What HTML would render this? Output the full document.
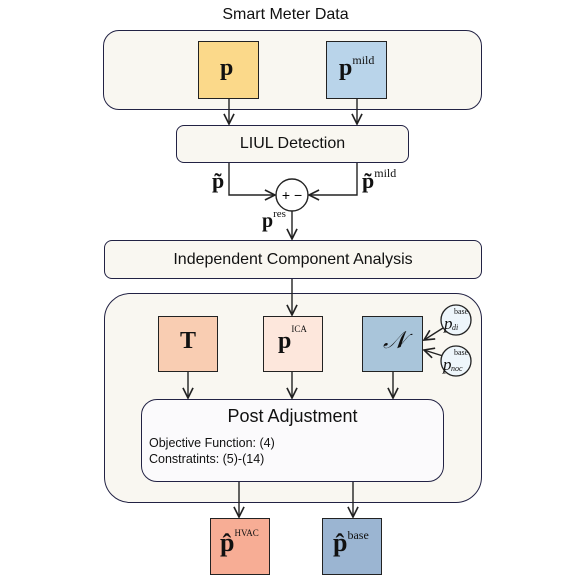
<html><head><style>
body{margin:0;width:571px;height:585px;background:#fff;position:relative;font-family:"Liberation Sans",sans-serif;overflow:hidden}
.a{position:absolute;box-sizing:border-box;border:1.5px solid #222244}
.t{position:absolute;font-family:"Liberation Serif",serif;font-weight:bold;color:#111}
.s{font-weight:normal;font-size:11px;vertical-align:top;position:relative;top:-2px}
</style></head><body>
<div style="position:absolute;left:0;width:571px;top:6px;text-align:center;font-size:16px;color:#111">Smart Meter Data</div>
<div class="a" style="left:103px;top:30px;width:379px;height:80px;border-radius:16px;background:#f9f7f1"></div>
<div class="a" style="left:104px;top:293px;width:378px;height:210px;border-radius:26px;background:#f9f7f1"></div>
<div class="a" style="left:198px;top:41px;width:61px;height:58px;background:#fbd98a;border:1.5px solid #222"></div>
<div class="a" style="left:326px;top:41px;width:61px;height:58px;background:#b9d4ea;border:1.5px solid #222"></div>
<div class="t" style="left:220px;top:55px;font-size:24px">p</div>
<div class="t" style="left:339px;top:55px;font-size:24px">p<span class="s" style="font-size:12px">mild</span></div>
<div class="a" style="left:176px;top:125px;width:233px;height:38px;border-radius:8px;background:#f9f7f1;text-align:center;line-height:36px;font-size:16px;color:#111">LIUL Detection</div>
<div class="a" style="left:104px;top:240px;width:378px;height:39px;border-radius:8px;background:#f9f7f1;text-align:center;line-height:37px;font-size:16px;color:#111">Independent Component Analysis</div>
<div class="t" style="left:212px;top:168px;font-size:22px">p̃</div>
<div class="t" style="left:362px;top:168px;font-size:22px">p̃<span class="s" style="font-size:12px">mild</span></div>
<div class="t" style="left:262px;top:210px;font-size:20px">p<span class="s" style="font-size:11px">res</span></div>
<div class="a" style="left:158px;top:316px;width:60px;height:56px;background:#f9cdb2;border:1.5px solid #222"></div>
<div class="a" style="left:263px;top:316px;width:60px;height:56px;background:#fde7dc;border:1.5px solid #222"></div>
<div class="a" style="left:362px;top:316px;width:61px;height:56px;background:#a9c5da;border:1.5px solid #222"></div>
<div class="t" style="left:180px;top:328px;font-size:24px">T</div>
<div class="t" style="left:278px;top:328px;font-size:24px">p<span class="s" style="font-size:9px;top:-4px">ICA</span></div>
<div class="t" style="left:383px;top:326px;font-size:24px;font-weight:normal;font-style:italic;font-family:'DejaVu Serif',serif">𝒩</div>
<div class="a" style="left:141px;top:399px;width:303px;height:83px;border-radius:16px;background:#fbfafc"></div>
<div style="position:absolute;left:141px;width:303px;top:406px;text-align:center;font-size:18px;color:#111">Post Adjustment</div>
<div style="position:absolute;left:149px;top:435px;font-size:12.5px;line-height:16px;color:#111">Objective Function: (4)<br>Constratints: (5)-(14)</div>
<div class="a" style="left:210px;top:518px;width:60px;height:57px;background:#f7ad95;border:1.5px solid #222"></div>
<div class="a" style="left:322px;top:518px;width:60px;height:57px;background:#9bb5d2;border:1.5px solid #222"></div>
<div class="t" style="left:220px;top:528px;font-size:26px">p̂<span class="s" style="font-size:9px;top:0">HVAC</span></div>
<div class="t" style="left:333px;top:528px;font-size:26px">p̂<span class="s" style="font-size:12px;top:0">base</span></div>
<svg width="571" height="585" style="position:absolute;left:0;top:0">
<defs><marker id="m" viewBox="0 0 10 10" refX="9" refY="5" markerWidth="9" markerHeight="9" orient="auto"><path d="M1,1L9,5L1,9" fill="none" stroke="#222" stroke-width="1.3"/></marker></defs>
<g stroke="#222" stroke-width="1.4" fill="none" marker-end="url(#m)">
<path d="M229,99V124"/><path d="M357,99V124"/>
<path d="M229,163V195H275"/><path d="M357,163V195H309"/>
<path d="M292,211V239"/><path d="M292,279V315"/>
<path d="M188,372V398"/><path d="M292,372V398"/><path d="M393,372V398"/>
<path d="M239,482V517"/><path d="M353,482V517"/>
<path d="M443,328L424,340"/><path d="M443,356L424,350"/>
</g>
<circle cx="292" cy="195" r="16" fill="#fff" stroke="#222" stroke-width="1.4"/>
<text x="292" y="200" font-size="14" text-anchor="middle" font-family="Liberation Sans">+ −</text>
<circle cx="456" cy="320" r="15" fill="#eef6fb" stroke="#222" stroke-width="1.3"/>
<circle cx="456" cy="361" r="15" fill="#eef6fb" stroke="#222" stroke-width="1.3"/>
<g font-family="Liberation Serif" font-style="italic" fill="#111">
<text x="444" y="329" font-size="17">p</text><text x="452" y="330" font-size="8">di</text><text x="454" y="314" font-size="8" font-style="normal">base</text>
<text x="443" y="370" font-size="17">p</text><text x="451" y="371" font-size="8">noc</text><text x="454" y="355" font-size="8" font-style="normal">base</text>
</g>
</svg>
</body></html>
